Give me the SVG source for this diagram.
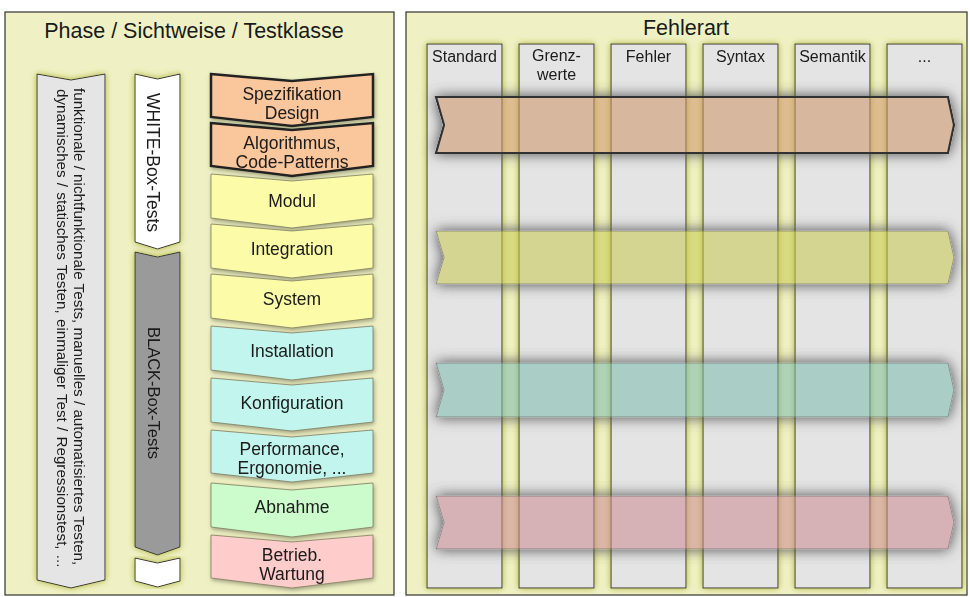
<svg xmlns="http://www.w3.org/2000/svg" width="970" height="597" viewBox="0 0 970 597">
<defs>
<style>
text{font-family:"Liberation Sans",Arial,sans-serif;fill:#1a1a1a}
.panel{fill:#eff1c4;stroke:#333;stroke-width:1.2}
.title{font-size:21.5px;text-anchor:middle}
.col{fill:#e4e4e4;stroke:#333;stroke-width:1}
.hdr{font-size:16px;text-anchor:middle}
.chev{font-size:17.5px;text-anchor:middle}
.org{fill:#fac69b;stroke:#222;stroke-width:2.5;stroke-linejoin:miter}
.yel{fill:#fcfca8;stroke:#7d7d60;stroke-width:0.8}
.teal{fill:#c3f5ef;stroke:#7d7d60;stroke-width:0.8}
.grn{fill:#ccfccc;stroke:#7d7d60;stroke-width:0.8}
.pnk{fill:#ffcccc;stroke:#7d7d60;stroke-width:0.8}
.band{stroke:#444;stroke-width:0.8}
</style>
<filter id="glow" x="-30%" y="-5%" width="160%" height="110%">
<feGaussianBlur in="SourceAlpha" stdDeviation="3" result="b"/>
<feComponentTransfer in="b" result="b2"><feFuncA type="linear" slope="1.6"/></feComponentTransfer>
<feFlood flood-color="#bfc35a" flood-opacity="0.85"/>
<feComposite in2="b2" operator="in" result="g"/>
<feMerge><feMergeNode in="g"/><feMergeNode in="SourceGraphic"/></feMerge>
</filter>
<filter id="shad" x="-10%" y="-20%" width="120%" height="150%">
<feDropShadow dx="1" dy="2" stdDeviation="2" flood-color="#6b6b50" flood-opacity="0.6"/>
</filter>
<filter id="halo" x="-5%" y="-70%" width="110%" height="240%">
<feComponentTransfer in="SourceAlpha" result="opq"><feFuncA type="linear" slope="3"/></feComponentTransfer>
<feGaussianBlur in="opq" stdDeviation="7" result="b"/>
<feComponentTransfer in="b" result="b2"><feFuncA type="linear" slope="1.4"/></feComponentTransfer>
<feFlood flood-color="#4a4a4a" flood-opacity="0.7"/>
<feComposite in2="b2" operator="in" result="s"/>
<feComposite in="s" in2="opq" operator="out" result="so"/>
<feMerge><feMergeNode in="so"/><feMergeNode in="SourceGraphic"/></feMerge>
</filter>
</defs>

<!-- Left panel -->
<g id="panel-left">
<rect class="panel" x="5" y="12" width="389" height="583"/>
<text class="title" x="194" y="38">Phase / Sichtweise / Testklasse</text>
</g>

<g id="sichtweise" filter="url(#glow)">
<path d="M37,74 L71,80 L105,74 L105,580 L71,588 L37,580 Z" fill="#e5e5e5" stroke="#333" stroke-width="1"/>
<text font-size="15.2" fill="#222" transform="translate(74,88) rotate(90)">funktionale / nichtfunktionale Tests, manuelles / automatisiertes Testen,</text>
<text font-size="15.2" fill="#222" transform="translate(57,89) rotate(90)" word-spacing="1">dynamisches / statisches Testen, einmaliger Test / Regressionstest, ...</text>
</g>

<g id="whitebox" filter="url(#glow)">
<path d="M135,74 L157.5,79 L180,74 L180,242 L157.5,249 L135,242 Z" fill="#ffffff" stroke="#333" stroke-width="1"/>
<text font-size="17.5" transform="translate(147,93) rotate(90)">WHITE-Box-Tests</text>
</g>

<g id="blackbox" filter="url(#glow)">
<path d="M135,252 L157.5,257 L180,252 L180,547 L157.5,555 L135,547 Z" fill="#9a9a9a" stroke="#333" stroke-width="1"/>
<text font-size="16.5" transform="translate(148,327) rotate(90)">BLACK-Box-Tests</text>
</g>

<g id="whitebox-end" filter="url(#glow)">
<path d="M135,558 L157.5,563 L180,558 L180,581 L157.5,587 L135,581 Z" fill="#ffffff" stroke="#333" stroke-width="1"/>
</g>

<!-- Phases -->
<g id="phase-spezifikation" filter="url(#shad)">
<path class="org" d="M211,74 L292,81 L373,74 L373,117 L292,126 L211,117 Z"/>
<text class="chev" x="292" y="100">Spezifikation</text>
<text class="chev" x="292" y="118.5">Design</text>
</g>
<g id="phase-algorithmus" filter="url(#shad)">
<path class="org" d="M211,123 L292,130 L373,123 L373,166 L292,176 L211,166 Z"/>
<text class="chev" x="292" y="149">Algorithmus,</text>
<text class="chev" x="292" y="167.5">Code-Patterns</text>
</g>
<g id="phase-modul" filter="url(#shad)">
<path class="yel" d="M211,174 L292,181 L373,174 L373,218 L292,228 L211,218 Z"/>
<text class="chev" x="292" y="207">Modul</text>
</g>
<g id="phase-integration" filter="url(#shad)">
<path class="yel" d="M211,224 L292,231 L373,224 L373,268 L292,278 L211,268 Z"/>
<text class="chev" x="292" y="255">Integration</text>
</g>
<g id="phase-system" filter="url(#shad)">
<path class="yel" d="M211,274 L292,281 L373,274 L373,318 L292,328 L211,318 Z"/>
<text class="chev" x="292" y="305">System</text>
</g>
<g id="phase-installation" filter="url(#shad)">
<path class="teal" d="M211,326 L292,333 L373,326 L373,370 L292,380 L211,370 Z"/>
<text class="chev" x="292" y="357">Installation</text>
</g>
<g id="phase-konfiguration" filter="url(#shad)">
<path class="teal" d="M211,378 L292,385 L373,378 L373,422 L292,431 L211,422 Z"/>
<text class="chev" x="292" y="409">Konfiguration</text>
</g>
<g id="phase-performance" filter="url(#shad)">
<path class="teal" d="M211,430 L292,437 L373,430 L373,473 L292,482 L211,473 Z"/>
<text class="chev" x="292" y="455">Performance,</text>
<text class="chev" x="292" y="473.5">Ergonomie, ...</text>
</g>
<g id="phase-abnahme" filter="url(#shad)">
<path class="grn" d="M211,483 L292,490 L373,483 L373,527 L292,537 L211,527 Z"/>
<text class="chev" x="292" y="513">Abnahme</text>
</g>
<g id="phase-betrieb" filter="url(#shad)">
<path class="pnk" d="M211,535 L292,542 L373,535 L373,578 L292,588 L211,578 Z"/>
<text class="chev" x="292" y="561">Betrieb.</text>
<text class="chev" x="292" y="579.5">Wartung</text>
</g>

<!-- Right panel -->
<g id="panel-right">
<rect class="panel" x="406" y="12" width="561" height="583"/>
<text class="title" x="686" y="35">Fehlerart</text>
</g>

<g id="col-standard" filter="url(#glow)">
<rect class="col" x="427" y="44" width="75" height="544"/>
<text class="hdr" x="464.5" y="62">Standard</text>
</g>
<g id="col-grenzwerte" filter="url(#glow)">
<rect class="col" x="519" y="44" width="75" height="544"/>
<text class="hdr" x="556.5" y="61">Grenz-</text>
<text class="hdr" x="556.5" y="79.5">werte</text>
</g>
<g id="col-fehler" filter="url(#glow)">
<rect class="col" x="611" y="44" width="75" height="544"/>
<text class="hdr" x="648.5" y="62">Fehler</text>
</g>
<g id="col-syntax" filter="url(#glow)">
<rect class="col" x="703" y="44" width="75" height="544"/>
<text class="hdr" x="740.5" y="62">Syntax</text>
</g>
<g id="col-semantik" filter="url(#glow)">
<rect class="col" x="795" y="44" width="75" height="544"/>
<text class="hdr" x="832.5" y="62">Semantik</text>
</g>
<g id="col-more" filter="url(#glow)">
<rect class="col" x="887" y="44" width="75" height="544"/>
<text class="hdr" x="924.5" y="62">...</text>
</g>

<!-- Bands -->
<g id="band-orange" filter="url(#halo)">
<path d="M436,97 L948,97 L954,125 L948,153 L436,153 L444,125 Z" fill="#cf9468" fill-opacity="0.56" stroke="#333" stroke-width="2.2"/>
</g>
<g id="band-yellow" filter="url(#halo)">
<path class="band" d="M436,231 L948,231 L954,257.5 L948,284 L436,284 L444,257.5 Z" fill="#c8c94e" fill-opacity="0.56" stroke-opacity="0.6"/>
</g>
<g id="band-teal" filter="url(#halo)">
<path class="band" d="M436,363 L948,363 L954,390 L948,417 L436,417 L444,390 Z" fill="#7cbcae" fill-opacity="0.56" stroke-opacity="0.6"/>
</g>
<g id="band-pink" filter="url(#halo)">
<path class="band" d="M436,496 L948,496 L954,522.5 L948,549 L436,549 L444,522.5 Z" fill="#cc8a90" fill-opacity="0.56" stroke-opacity="0.6"/>
</g>

<g id="connectors"/>
</svg>
